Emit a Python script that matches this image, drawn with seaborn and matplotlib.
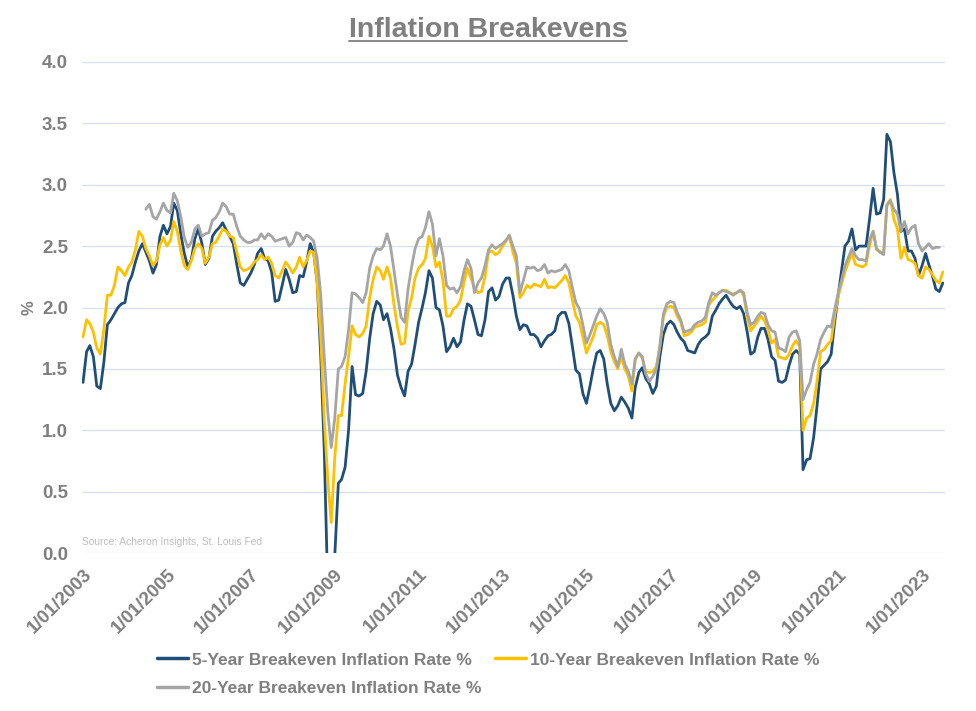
import numpy as np
import pandas as pd
import matplotlib.pyplot as plt
from matplotlib.lines import Line2D
import seaborn as sns

nan = np.nan

# Monthly observations, Jan 2003 - Jul 2023
dates = pd.date_range("2003-01-01", "2023-07-01", freq="MS")

be_5y = [
    1.39, 1.64, 1.69, 1.60, 1.36, 1.34, 1.55, 1.86, 1.90, 1.95, 2.00, 2.03,  # 2003
    2.04, 2.20, 2.26, 2.37, 2.46, 2.52, 2.45, 2.38, 2.28, 2.35, 2.58, 2.67,  # 2004
    2.60, 2.66, 2.85, 2.79, 2.60, 2.44, 2.33, 2.39, 2.56, 2.64, 2.52, 2.35,  # 2005
    2.40, 2.58, 2.62, 2.65, 2.69, 2.63, 2.58, 2.52, 2.35, 2.20, 2.18, 2.23,  # 2006
    2.28, 2.35, 2.44, 2.48, 2.40, 2.38, 2.29, 2.05, 2.06, 2.18, 2.31, 2.23,  # 2007
    2.12, 2.13, 2.26, 2.25, 2.37, 2.52, 2.45, 2.20, 1.60, 0.85, -0.30, -0.70,  # 2008
    -0.02, 0.57, 0.60, 0.70, 1.00, 1.52, 1.29, 1.28, 1.30, 1.48, 1.75, 1.95,  # 2009
    2.05, 2.02, 1.90, 1.95, 1.83, 1.66, 1.45, 1.35, 1.28, 1.48, 1.54, 1.70,  # 2010
    1.88, 2.00, 2.12, 2.30, 2.24, 2.00, 1.98, 1.85, 1.64, 1.68, 1.75, 1.68,  # 2011
    1.72, 1.90, 2.03, 2.01, 1.90, 1.78, 1.77, 1.90, 2.13, 2.16, 2.06, 2.09,  # 2012
    2.19, 2.24, 2.24, 2.10, 1.93, 1.82, 1.86, 1.85, 1.78, 1.78, 1.75, 1.68,  # 2013
    1.73, 1.77, 1.78, 1.81, 1.93, 1.96, 1.96, 1.87, 1.68, 1.49, 1.46, 1.30,  # 2014
    1.22, 1.36, 1.50, 1.63, 1.65, 1.58, 1.38, 1.22, 1.16, 1.20, 1.27, 1.23,  # 2015
    1.18, 1.10, 1.35, 1.47, 1.51, 1.42, 1.38, 1.30, 1.36, 1.60, 1.78, 1.86,  # 2016
    1.89, 1.86, 1.80, 1.75, 1.72, 1.65, 1.64, 1.63, 1.70, 1.74, 1.76, 1.79,  # 2017
    1.93, 1.98, 2.03, 2.07, 2.10, 2.05, 2.01, 1.99, 2.01, 1.95, 1.80, 1.62,  # 2018
    1.64, 1.76, 1.83, 1.83, 1.74, 1.60, 1.57, 1.40, 1.39, 1.41, 1.53, 1.62,  # 2019
    1.65, 1.62, 0.68, 0.76, 0.77, 0.94, 1.20, 1.50, 1.53, 1.56, 1.62, 1.88,  # 2020
    2.10, 2.31, 2.50, 2.54, 2.64, 2.47, 2.50, 2.50, 2.50, 2.72, 2.97, 2.76,  # 2021
    2.77, 2.88, 3.41, 3.35, 3.10, 2.92, 2.62, 2.64, 2.46, 2.46, 2.40, 2.26,  # 2022
    2.34, 2.44, 2.35, 2.26, 2.15, 2.13, 2.20,                                # 2023
]

be_10y = [
    1.76, 1.90, 1.87, 1.80, 1.67, 1.62, 1.82, 2.10, 2.10, 2.18, 2.33, 2.30,
    2.26, 2.33, 2.37, 2.47, 2.62, 2.58, 2.48, 2.42, 2.34, 2.38, 2.51, 2.57,
    2.50, 2.55, 2.70, 2.62, 2.46, 2.34, 2.31, 2.38, 2.48, 2.52, 2.48, 2.36,
    2.41, 2.52, 2.53, 2.58, 2.64, 2.62, 2.58, 2.57, 2.45, 2.33, 2.30, 2.31,
    2.33, 2.37, 2.39, 2.43, 2.39, 2.41, 2.36, 2.26, 2.24, 2.30, 2.37, 2.33,
    2.28, 2.33, 2.41, 2.33, 2.38, 2.46, 2.45, 2.20, 1.75, 1.10, 0.60, 0.25,
    0.78, 1.12, 1.12, 1.38, 1.60, 1.85, 1.78, 1.76, 1.79, 1.85, 2.08, 2.23,
    2.33, 2.30, 2.23, 2.33, 2.24, 2.02, 1.84, 1.70, 1.71, 1.97, 2.08, 2.24,
    2.32, 2.35, 2.40, 2.58, 2.50, 2.33, 2.37, 2.22, 1.93, 1.93, 1.99, 2.01,
    2.06, 2.21, 2.32, 2.24, 2.16, 2.12, 2.13, 2.25, 2.45, 2.46, 2.43, 2.45,
    2.50, 2.54, 2.58, 2.45, 2.36, 2.08, 2.12, 2.18, 2.16, 2.19, 2.18, 2.17,
    2.23, 2.16, 2.17, 2.16, 2.19, 2.22, 2.26, 2.20, 2.06, 1.93, 1.88, 1.76,
    1.63, 1.70, 1.76, 1.86, 1.88, 1.86, 1.77, 1.64, 1.56, 1.50, 1.60, 1.50,
    1.44, 1.32, 1.58, 1.63, 1.59, 1.48, 1.47, 1.48, 1.52, 1.68, 1.92, 2.00,
    2.01, 2.00, 1.93, 1.88, 1.77, 1.78, 1.80, 1.84, 1.85, 1.86, 1.88, 2.02,
    2.06, 2.09, 2.12, 2.14, 2.14, 2.12, 2.11, 2.12, 2.14, 2.10, 1.92, 1.81,
    1.85, 1.89, 1.93, 1.89, 1.82, 1.71, 1.74, 1.60, 1.59, 1.58, 1.62, 1.69,
    1.73, 1.68, 1.00, 1.10, 1.12, 1.22, 1.40, 1.64, 1.66, 1.70, 1.73, 1.93,
    2.09, 2.20, 2.29, 2.37, 2.44, 2.35, 2.34, 2.33, 2.35, 2.50, 2.62, 2.47,
    2.45, 2.45, 2.84, 2.88, 2.72, 2.64, 2.40, 2.49, 2.39, 2.38, 2.36, 2.26,
    2.24, 2.33, 2.31, 2.27, 2.22, 2.20, 2.29,
]

be_20y = [
    nan, nan, nan, nan, nan, nan, nan, nan, nan, nan, nan, nan,
    nan, nan, nan, nan, nan, nan, 2.80, 2.84, 2.74, 2.72, 2.78, 2.85,
    2.79, 2.77, 2.93, 2.87, 2.74, 2.57, 2.49, 2.53, 2.64, 2.67, 2.58, 2.60,
    2.61, 2.71, 2.73, 2.78, 2.85, 2.82, 2.76, 2.76, 2.66, 2.58, 2.55, 2.53,
    2.53, 2.55, 2.55, 2.60, 2.56, 2.60, 2.58, 2.54, 2.55, 2.56, 2.57, 2.50,
    2.53, 2.61, 2.60, 2.55, 2.59, 2.57, 2.54, 2.40, 2.10, 1.60, 1.15, 0.86,
    1.10, 1.50, 1.52, 1.60, 1.82, 2.12, 2.11, 2.08, 2.04, 2.12, 2.32, 2.42,
    2.48, 2.47, 2.50, 2.60, 2.50, 2.30, 2.10, 1.92, 1.88, 2.15, 2.33, 2.48,
    2.56, 2.58, 2.65, 2.78, 2.68, 2.42, 2.56, 2.42, 2.18, 2.15, 2.16, 2.12,
    2.17, 2.30, 2.39, 2.32, 2.12, 2.20, 2.24, 2.34, 2.47, 2.51, 2.48, 2.50,
    2.52, 2.55, 2.59, 2.50, 2.42, 2.12, 2.22, 2.33, 2.32, 2.33, 2.30, 2.31,
    2.35, 2.28, 2.30, 2.29, 2.30, 2.31, 2.35, 2.30, 2.16, 2.04, 1.99, 1.86,
    1.71, 1.78, 1.85, 1.93, 1.99, 1.95, 1.88, 1.70, 1.60, 1.52, 1.66, 1.54,
    1.48, 1.38, 1.58, 1.63, 1.60, 1.46, 1.40, 1.44, 1.50, 1.68, 1.95, 2.03,
    2.05, 2.04, 1.96, 1.90, 1.80, 1.81, 1.82, 1.86, 1.88, 1.89, 1.92, 2.04,
    2.12, 2.10, 2.12, 2.14, 2.13, 2.12, 2.10, 2.12, 2.14, 2.12, 1.96, 1.86,
    1.88, 1.93, 1.96, 1.95, 1.86, 1.81, 1.80, 1.67, 1.66, 1.64, 1.76, 1.80,
    1.81, 1.73, 1.25, 1.33, 1.39, 1.54, 1.62, 1.74, 1.80, 1.85, 1.84, 1.98,
    2.12, 2.23, 2.34, 2.41, 2.48, 2.42, 2.39, 2.39, 2.38, 2.55, 2.62, 2.48,
    2.45, 2.43, 2.83, 2.87, 2.80, 2.76, 2.62, 2.70, 2.60, 2.65, 2.67, 2.52,
    2.46, 2.49, 2.52, 2.48, 2.49, 2.49, nan,
]

series_names = [
    "5-Year Breakeven Inflation Rate %",
    "10-Year Breakeven Inflation Rate %",
    "20-Year Breakeven Inflation Rate %",
]
series_colors = ["#1f4e79", "#ffc000", "#a5a5a5"]

df = pd.DataFrame({
    "date": dates,
    series_names[0]: be_5y,
    series_names[1]: be_10y,
    series_names[2]: be_20y,
})
long_df = df.melt(id_vars="date", var_name="series", value_name="rate").dropna()

sns.set_theme(style="white")
plt.rcParams["font.family"] = ["Liberation Sans", "DejaVu Sans"]

text_grey = "#7f7f7f"
grid_col = "#d3e0ef"

fig = plt.figure(figsize=(9.76, 7.11), dpi=100)
ax = fig.add_axes([0.084, 0.222, 0.884, 0.691])

sns.lineplot(
    data=long_df, x="date", y="rate", hue="series",
    hue_order=series_names, palette=dict(zip(series_names, series_colors)),
    estimator=None, linewidth=2.0, legend=False, ax=ax,
)

# axes styling
ax.set_ylim(0, 4)
ax.set_yticks(np.arange(0, 4.01, 0.5))
ax.set_yticklabels([f"{v:.1f}" for v in np.arange(0, 4.01, 0.5)])
ax.set_xlim(dates[0] - pd.Timedelta(days=9), dates[-1] + pd.Timedelta(days=17))
tick_dates = dates[::24]
ax.set_xticks(tick_dates)
ax.set_xticklabels([f"{d.month}/{d.day:02d}/{d.year}" for d in tick_dates],
                   rotation=45, ha="right", va="top", rotation_mode="anchor")
for sp in ax.spines.values():
    sp.set_visible(False)
ax.yaxis.grid(True, color=grid_col, linewidth=0.9)
ax.xaxis.grid(False)
ax.set_axisbelow(True)
ax.tick_params(axis="both", length=0, colors=text_grey, labelsize=13.5)
ax.tick_params(axis="y", pad=10)
ax.tick_params(axis="x", pad=9)
for lab in ax.get_xticklabels() + ax.get_yticklabels():
    lab.set_fontweight("bold")

ax.set_xlabel("")
ax.set_ylabel("%", color=text_grey, fontsize=12, fontweight="bold", labelpad=4)

ax.text(0.0, 0.012, "Source: Acheron Insights, St. Louis Fed", transform=ax.transAxes,
        fontsize=7.4, color="#bfbfbf", ha="left", va="bottom")

# legend: 5Y and 10Y on first row, 20Y below
handles = [Line2D([], [], color=c, linewidth=2.5) for c in series_colors]
order = [0, 2, 1]
fig.legend([handles[i] for i in order], [series_names[i] for i in order],
           loc="center", bbox_to_anchor=(0.5, 0.052), ncol=2, frameon=False,
           prop={"weight": "bold", "size": 12.5}, labelcolor=text_grey,
           handlelength=1.8, handletextpad=0.2, columnspacing=0.8, labelspacing=0.75)

# title with underline
title = fig.text(0.5, 1 - 30 / 711, "Inflation Breakevens", ha="center", va="center",
                 fontsize=20.5, fontweight="bold", color=text_grey)
fig.canvas.draw()
bb = title.get_window_extent()
W, H = fig.bbox.width, fig.bbox.height
fig.add_artist(Line2D([bb.x0 / W, bb.x1 / W], [(bb.y0 + 2) / H, (bb.y0 + 2) / H],
                      color=text_grey, linewidth=1.3))

fig.savefig("out.png", dpi=100)
